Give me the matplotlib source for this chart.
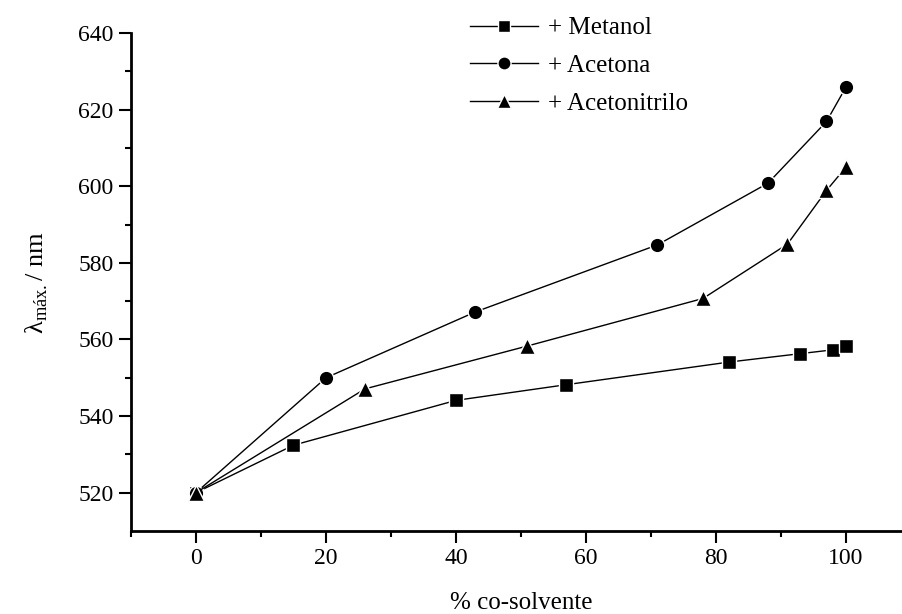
import matplotlib
matplotlib.use("Agg")
import matplotlib.pyplot as plt

# % co-solvente vs lambda max (nm)
metanol_x = [0, 15, 40, 57, 82, 93, 98, 100]
metanol_y = [520, 532.4, 544.1, 548.2, 554.1, 556.3, 557.3, 558.3]

acetona_x = [0, 20, 43, 71, 88, 97, 100]
acetona_y = [520, 550.0, 567.2, 584.7, 600.8, 616.9, 625.9]

acetonitrilo_x = [0, 26, 51, 78, 91, 97, 100]
acetonitrilo_y = [520, 547.1, 558.3, 570.7, 584.9, 598.9, 605.0]

labels = ["+ Metanol", "+ Acetona", "+ Acetonitrilo"]

plt.rcParams["font.family"] = ["Liberation Serif", "DejaVu Serif"]
plt.rcParams["mathtext.fontset"] = "custom"
plt.rcParams["mathtext.rm"] = "Liberation Serif"

fig = plt.figure(figsize=(9.03, 6.14), dpi=100)
ax = fig.add_axes([131 / 903, 83 / 614, 780 / 903, 498 / 614])

style = dict(color="black", lw=1.0, markeredgecolor="white", markeredgewidth=1.0)
ax.plot(metanol_x, metanol_y, marker="s", ms=10, label=labels[0], **style)
ax.plot(acetona_x, acetona_y, marker="o", ms=10.5, label=labels[1], **style)
ax.plot(acetonitrilo_x, acetonitrilo_y, marker="^", ms=11.5, label=labels[2], **style)

ax.set_xlim(-10, 110)
ax.set_ylim(510, 640)
ax.set_xticks([0, 20, 40, 60, 80, 100])
ax.set_xticks(range(-10, 110, 20), minor=True)
ax.set_yticks(range(520, 641, 20))
ax.set_yticks(range(530, 640, 20), minor=True)

for side in ["top", "right"]:
    ax.spines[side].set_visible(False)
for side in ["left", "bottom"]:
    ax.spines[side].set_linewidth(2.0)

ax.tick_params(which="major", direction="out", length=8.5, width=1.5,
               labelsize=17, pad=4)
ax.tick_params(which="minor", direction="out", length=4, width=1.5)

ax.set_xlabel("% co-solvente", fontsize=18, labelpad=16)
ax.set_ylabel("λ$_{\\mathrm{máx.}}$/ nm", fontsize=19, labelpad=20)

fig.legend(loc="upper left", bbox_to_anchor=(470 / 903, 1 - 17 / 614),
           frameon=False, fontsize=18, handlelength=2.7, handletextpad=0.4,
           labelspacing=0.6, borderpad=0, borderaxespad=0, markerscale=0.9)

fig.savefig("out.png", dpi=100)
